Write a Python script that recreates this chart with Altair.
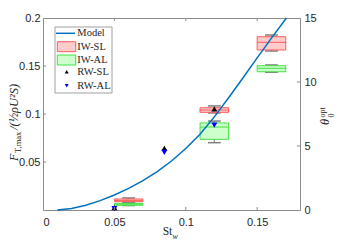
import altair as alt
import pandas as pd

# ---------------- data ----------------
model_st = [0.010, 0.020, 0.030, 0.040, 0.050, 0.060, 0.070, 0.080, 0.090,
            0.100, 0.110, 0.120, 0.130, 0.140, 0.150, 0.160, 0.1705]
model_f = [0.0000, 0.0015, 0.0050, 0.0098, 0.0156, 0.0225, 0.0305, 0.0400,
           0.0510, 0.0640, 0.0790, 0.0970, 0.1170, 0.1375, 0.1585, 0.1790, 0.2000]

box_st = [0.06, 0.12, 0.16]
iwsl_lo = [0.62, 7.58, 12.42]
iwsl_q1 = [0.65, 7.63, 12.50]
iwsl_med = [0.75, 7.81, 13.10]
iwsl_q3 = [0.86, 7.99, 13.54]
iwsl_hi = [0.94, 8.13, 13.67]

iwal_lo = [0.35, 5.26, 10.76]
iwal_q1 = [0.37, 5.52, 10.80]
iwal_med = [0.45, 6.48, 11.07]
iwal_q3 = [0.52, 6.80, 11.27]
iwal_hi = [0.55, 6.95, 11.33]

rw_st = [0.05, 0.085, 0.12]
rwsl_f = [0.0025, 0.0643, 0.1052]
rwal_f = [0.0015, 0.0600, 0.0885]

x_ticks = [0, 0.05, 0.1, 0.15]
f_ticks = [0.05, 0.1, 0.15, 0.2]
t_ticks = [0, 5, 10, 15]
legend_labels = ["Model", "IW-SL", "IW-AL", "RW-SL", "RW-AL"]

# ---------------- styling ----------------
W, H = 257, 192
AX = "#8c8c8c"
TXT = "#262626"
GRAY = "#7f7f7f"
BLUE = "#0072BD"
RED_S, RED_F = "#ff5a5a", "#ffcccc"
GRN_S, GRN_F = "#44e044", "#ccffcc"
BOX_HALF = 0.01
CAP_HALF = 0.0045
SERIF = "Liberation Serif"

xscale = alt.Scale(domain=[0, 0.18], nice=False, zero=False)
fscale = alt.Scale(domain=[0, 0.2], nice=False)
tscale = alt.Scale(domain=[0, 15], nice=False)

xaxis = alt.Axis(values=x_ticks, format="~g", title=None, labelPadding=6)


def X(field):
    return alt.X(field, type="quantitative", scale=xscale, axis=xaxis)


def YT(field, axis=None):
    return alt.Y(field, type="quantitative", scale=tscale, axis=axis)


def YF(field, axis=None):
    return alt.Y(field, type="quantitative", scale=fscale, axis=axis)


right_axis = alt.Axis(orient="right", values=t_ticks, format="d", title=None,
                      labelPadding=4)
left_axis = alt.Axis(orient="left", values=f_ticks, format="~g", title=None,
                     labelPadding=3)


def box_layers(lo, q1, med, q3, hi, stroke, fill, axis=None):
    df = pd.DataFrame({"st": box_st, "lo": lo, "q1": q1, "med": med,
                       "q3": q3, "hi": hi})
    df["x0"] = df["st"] - BOX_HALF
    df["x1"] = df["st"] + BOX_HALF
    df["c0"] = df["st"] - CAP_HALF
    df["c1"] = df["st"] + CAP_HALF
    base = alt.Chart(df)
    whisk = base.mark_rule(color=GRAY, strokeWidth=1).encode(
        x=X("st"), y=YT("lo"), y2="hi:Q")
    cap_hi = base.mark_rule(color=GRAY, strokeWidth=1.5).encode(
        x=X("c0"), x2="c1:Q", y=YT("hi"))
    cap_lo = base.mark_rule(color=GRAY, strokeWidth=1.5).encode(
        x=X("c0"), x2="c1:Q", y=YT("lo"))
    rect = base.mark_rect(fill=fill, stroke=stroke, strokeWidth=1).encode(
        x=X("x0"), x2="x1:Q", y=YT("q1", axis), y2="q3:Q")
    medl = base.mark_rule(color=stroke, strokeWidth=1).encode(
        x=X("x0"), x2="x1:Q", y=YT("med"))
    return [whisk, cap_hi, cap_lo, rect, medl]


layers = []
layers += box_layers(iwsl_lo, iwsl_q1, iwsl_med, iwsl_q3, iwsl_hi, RED_S, RED_F,
                     axis=right_axis)
layers += box_layers(iwal_lo, iwal_q1, iwal_med, iwal_q3, iwal_hi, GRN_S, GRN_F)

model = alt.Chart(pd.DataFrame({"st": model_st, "f": model_f})).mark_line(
    color=BLUE, strokeWidth=1.5).encode(x=X("st"), y=YF("f", left_axis))
layers.append(model)

rw = pd.DataFrame({"st": rw_st, "sl": rwsl_f, "al": rwal_f})
layers.append(alt.Chart(rw).mark_point(shape="triangle-up", filled=True,
                                       color="black", size=36, opacity=1).encode(
    x=X("st"), y=YF("sl")))
layers.append(alt.Chart(rw).mark_point(shape="triangle-down", filled=True,
                                       color="#0000ff", size=36, opacity=1).encode(
    x=X("st"), y=YF("al")))

# ---------------- axis ticks (inward) ----------------
xt = pd.DataFrame({"v": x_ticks[1:]})
ft = pd.DataFrame({"v": f_ticks[:-1]})
tt = pd.DataFrame({"v": t_ticks[1:-1]})
layers.append(alt.Chart(xt).mark_rule(color=AX).encode(
    x=X("v"), y=alt.value(H), y2=alt.value(H - 3)))
layers.append(alt.Chart(xt).mark_rule(color=AX).encode(
    x=X("v"), y=alt.value(0), y2=alt.value(3)))
layers.append(alt.Chart(ft).mark_rule(color=AX).encode(
    y=YF("v"), x=alt.value(0), x2=alt.value(3)))
layers.append(alt.Chart(tt).mark_rule(color=AX).encode(
    y=YT("v"), x=alt.value(W - 3), x2=alt.value(W)))

# ---------------- legend ----------------
one = alt.Data(values=[{}])
layers.append(alt.Chart(one).mark_rect(fill="white", stroke="#a0a0a0",
                                       strokeWidth=1).encode(
    x=alt.value(12), x2=alt.value(69), y=alt.value(9), y2=alt.value(75)))
layers.append(alt.Chart(one).mark_rule(color=BLUE, strokeWidth=1.5).encode(
    x=alt.value(13), x2=alt.value(32), y=alt.value(15.3)))
layers.append(alt.Chart(one).mark_rect(fill=RED_F, stroke=RED_S, strokeWidth=1).encode(
    x=alt.value(14.3), x2=alt.value(32.7), y=alt.value(23.7), y2=alt.value(33.7)))
layers.append(alt.Chart(one).mark_rect(fill=GRN_F, stroke=GRN_S, strokeWidth=1).encode(
    x=alt.value(14.3), x2=alt.value(32.7), y=alt.value(37), y2=alt.value(47)))
layers.append(alt.Chart(one).mark_point(shape="triangle-up", filled=True, color="black",
                                        size=16, opacity=1).encode(
    x=alt.value(23.7), y=alt.value(53.7)))
layers.append(alt.Chart(one).mark_point(shape="triangle-down", filled=True,
                                        color="#0000ff", size=16, opacity=1).encode(
    x=alt.value(23.7), y=alt.value(67.7)))
row_y = [15.3, 28.7, 42, 54.2, 67.7]
for lab, yy in zip(legend_labels, row_y):
    layers.append(alt.Chart(one).mark_text(
        text=lab, align="left", baseline="middle", font=SERIF, fontSize=10.5,
        color=TXT).encode(x=alt.value(34.3), y=alt.value(yy)))

# ---------------- axis titles as text ----------------
def txt(s, x, y, size, angle=0, italic=False, align="left"):
    kw = dict(text=s, align=align, baseline="alphabetic", font=SERIF,
              fontSize=size, color=TXT, angle=angle)
    if italic:
        kw["fontStyle"] = "italic"
    return alt.Chart(one).mark_text(**kw).encode(x=alt.value(x), y=alt.value(y))

# x title  St_w
layers.append(txt("St", 129.3, 217, 11.5, align="right"))
layers.append(txt("w", 129.6, 220.5, 8, italic=True))
# left title  F_{T,max}/(1/2 rho U^2 S)
layers.append(txt("F", -25.5, 143, 12, angle=270, italic=True))
layers.append(txt("T,max", -22.5, 135, 8.5, angle=270))
layers.append(txt("/(½ρU²S)", -25.5, 112, 12.5, angle=270, italic=True))
# right title theta_0^opt
layers.append(txt("θ", 286, 107, 12.5, angle=270, italic=True))
layers.append(txt("0", 290.5, 99.5, 8, angle=270))
layers.append(txt("opt", 281.5, 99.5, 8, angle=270))

chart = alt.layer(*layers).resolve_scale(y="independent").properties(
    width=W, height=H,
    autosize=alt.AutoSizeParams(type="none"),
    padding={"left": 35, "top": 10, "right": 35, "bottom": 31},
).configure_axis(
    labelFont="Liberation Sans", labelFontSize=11, labelColor=TXT,
    ticks=False, tickSize=0, domain=False, grid=False,
).configure_view(stroke=AX, strokeWidth=1)

chart.save("out.html", embed_options={"renderer": "svg", "actions": False})
